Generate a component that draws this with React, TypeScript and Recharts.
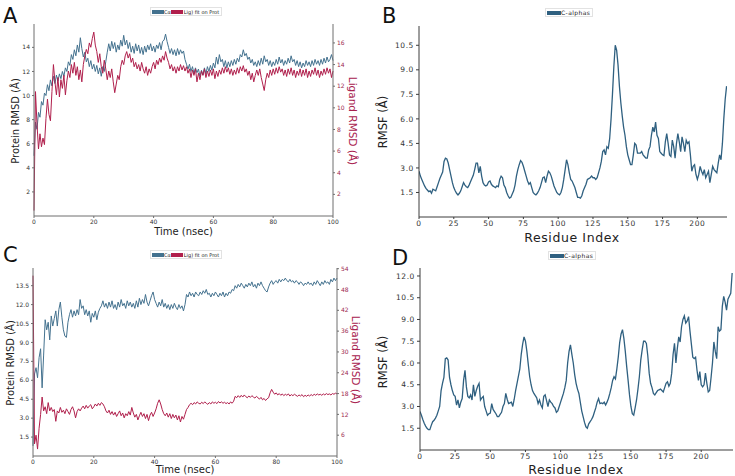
import { LineChart, Line, XAxis, YAxis } from "recharts";

// RMSD traces are sampled every 0.5 ns over the 100 ns run
const TIME_STEP = 0.5;

// Panel A: protein C-alpha RMSD and ligand RMSD (fit on protein)
const caRmsdA = [
  5.0, 7.8, 7.2, 8.6, 8.2, 9.5, 9.2, 10.2, 10.0, 10.9,
  10.4, 11.3, 10.8, 11.6, 11.0, 11.7, 11.2, 11.8, 11.4, 12.0,
  11.6, 12.3, 12.0, 12.8, 12.5, 13.4, 13.0, 13.8, 13.3, 14.2,
  13.6, 14.8, 13.9, 13.2, 13.6, 12.8, 13.1, 12.4, 12.9, 12.2,
  12.6, 12.0, 12.5, 11.8, 12.3, 11.6, 12.4, 12.0, 12.8, 13.6,
  14.3, 13.7, 14.5, 13.9, 14.4, 13.6, 14.2, 13.8, 14.6, 14.1,
  15.0, 14.2, 14.6, 13.9, 14.4, 13.6, 14.1, 13.5, 14.3, 13.7,
  14.2, 13.5, 14.0, 13.4, 14.1, 13.6, 14.2, 13.8, 14.3, 13.7,
  14.1, 13.6, 14.2, 13.9, 14.4, 13.8, 14.5, 14.6, 15.1, 14.5,
  14.0, 13.5, 13.9, 13.4, 13.8, 13.3, 13.9, 13.4, 13.8, 13.5,
  13.7, 13.0, 12.6, 12.2, 12.6, 12.0, 12.4, 11.8, 12.3, 11.9,
  12.2, 11.6, 12.1, 11.7, 12.3, 11.8, 12.4, 12.0, 12.5, 12.1,
  12.7, 12.3, 13.2, 12.6, 13.4, 12.8, 13.0, 12.4, 12.9, 12.3,
  12.8, 12.4, 12.9, 12.5, 13.0, 12.6, 13.1, 12.8, 13.4, 13.2,
  13.8, 13.3, 13.5, 13.0, 13.2, 12.7, 13.0, 12.5, 12.8, 12.4,
  12.9, 12.5, 13.1, 12.6, 13.3, 12.8, 13.0, 12.5, 12.9, 12.4,
  12.8, 12.5, 13.0, 12.6, 13.2, 12.7, 13.0, 12.5, 12.9, 12.6,
  13.1, 12.7, 13.3, 12.8, 13.0, 12.5, 12.9, 12.4, 12.8, 12.3,
  12.7, 12.4, 12.9, 12.5, 12.8, 12.4, 12.9, 12.5, 13.0, 12.6,
  12.9, 12.5, 13.0, 12.6, 13.1, 12.7, 13.2, 12.8, 13.0, 13.4,
  12.9,
];
const ligRmsdA = [
  0.5, 11.5, 8.5, 6.2, 7.6, 6.4, 7.2, 6.6, 9.0, 10.8,
  9.4, 8.8, 11.5, 14.0, 12.4, 11.2, 12.8, 11.0, 12.6, 11.8,
  13.0, 11.2, 12.5, 13.4, 12.8, 14.0, 13.2, 14.2, 13.0, 13.8,
  12.6, 13.5, 12.4, 14.0, 14.8, 15.4, 15.0, 16.0, 15.6, 16.4,
  17.0, 15.8, 15.2, 14.2, 15.0, 13.8, 13.2, 14.4, 13.6, 12.6,
  13.4, 12.8, 13.6, 12.4, 11.4, 12.2, 13.0, 12.6, 13.8, 14.4,
  14.0, 14.8, 15.2, 14.6, 15.0, 14.2, 14.6, 13.8, 14.2, 13.6,
  14.0, 13.4, 14.2, 13.6, 13.2, 13.8, 13.0, 13.6, 13.2, 13.8,
  14.2, 13.6, 14.4, 14.0, 14.6, 14.2, 14.8, 14.4, 15.2, 14.6,
  14.2, 13.6, 14.0, 13.4, 13.8, 13.2, 13.8, 13.4, 14.0, 13.5,
  13.9, 13.4, 13.8, 13.2, 13.6, 12.8, 13.5, 13.0, 13.6, 12.4,
  13.2, 12.6, 13.4, 13.0, 13.6, 12.8, 13.4, 12.9, 13.5, 13.0,
  13.6, 12.7, 13.4, 12.9, 13.5, 13.1, 13.7, 13.2, 13.8, 13.3,
  13.7, 13.1, 13.6, 13.0, 13.5, 13.1, 13.7, 13.2, 13.8, 13.4,
  13.9, 13.3, 13.6, 13.0, 13.4, 12.6, 13.2, 12.4, 13.0, 13.5,
  13.0, 13.6, 12.8, 12.2, 11.6, 12.6, 13.2, 12.8, 13.5, 13.0,
  13.6, 13.1, 13.7, 13.2, 13.8, 13.3, 13.6, 13.0, 13.5, 12.9,
  13.6, 13.1, 13.7, 13.0, 13.5, 12.8, 13.4, 13.0, 13.6, 12.9,
  13.5, 13.0, 13.6, 12.8, 13.4, 12.9, 13.5, 13.1, 13.7, 13.0,
  13.5, 12.8, 13.4, 13.0, 13.6, 13.1, 13.7, 13.2, 13.6, 12.8,
  13.4,
];

// Panel C: second complex
const caRmsdC = [
  0.8, 6.5, 7.0, 6.2, 7.8, 8.5, 5.4, 8.0, 10.8, 10.0,
  10.6, 9.2, 11.1, 10.3, 10.9, 11.5, 10.3, 11.6, 12.2, 11.0,
  10.0, 9.5, 9.4, 10.6, 11.2, 11.6, 11.0, 11.5, 11.1, 11.6,
  11.2, 12.4, 11.7, 11.9, 11.2, 11.6, 11.1, 11.5, 10.6, 11.3,
  11.0, 11.5, 10.8, 11.4, 11.7, 11.9, 12.3, 11.8, 12.1, 11.7,
  12.2, 11.8, 12.3, 11.7, 12.0, 11.6, 12.2, 11.8, 12.4, 11.9,
  12.1, 11.7, 12.3, 11.9, 12.2, 11.8, 12.1, 11.7, 12.3, 11.8,
  12.5, 12.0, 12.4, 12.1, 12.8, 12.2, 11.9, 12.3, 12.7, 13.0,
  12.4, 12.1, 11.8, 12.2, 11.9, 12.4, 11.8, 12.1, 11.7, 12.0,
  11.6, 12.0, 11.7, 12.1, 11.8, 11.6, 12.0, 11.7, 11.9, 11.5,
  12.0, 12.8, 12.6, 13.0, 12.7, 12.9, 12.6, 13.0, 12.8, 12.7,
  13.0, 12.8, 13.1, 12.9, 13.2, 12.8, 12.9, 12.6, 12.9, 12.7,
  13.0, 12.8, 12.6, 12.9, 12.7, 13.0, 12.6, 12.9, 12.7, 13.0,
  12.9, 13.2, 13.1, 13.5, 13.3, 13.6, 13.4, 13.7, 13.5, 13.3,
  13.6, 13.4, 13.7, 13.5, 13.8, 13.4, 13.6, 13.3, 13.7, 13.5,
  13.8, 13.5, 13.3, 13.1, 13.0, 13.4, 13.7, 13.9, 13.6, 13.8,
  13.9, 13.7, 14.0, 13.8, 14.0, 13.9, 14.1, 13.9, 13.8, 14.0,
  13.8, 13.9, 13.7, 13.9, 13.8, 13.6, 13.8, 13.7, 13.5, 13.7,
  13.6, 13.8, 13.6, 13.7, 13.5, 13.8, 13.6, 13.9, 13.7, 13.5,
  13.8, 13.6, 13.9, 13.7, 13.8, 13.6, 14.0, 13.8, 14.1, 13.9,
  14.1,
];
const ligRmsdC = [
  52.0, 3.5, 6.0, 2.0, 8.0, 12.0, 17.0, 13.0, 14.2, 12.2,
  15.4, 13.0, 14.0, 12.8, 13.4, 10.0, 13.0, 12.4, 14.0, 12.6,
  13.2, 12.2, 13.6, 12.8, 12.0, 13.4, 14.2, 13.0, 11.0, 12.8,
  13.6, 13.0, 13.8, 14.4, 13.6, 14.6, 13.8, 14.4, 14.8, 13.6,
  14.2, 15.0, 14.4, 15.2, 14.6, 15.4, 15.0, 14.2, 13.0, 12.4,
  13.2, 12.0, 12.8, 11.8, 12.6, 11.4, 12.2, 13.0, 11.6, 12.4,
  11.0, 12.2, 11.6, 12.8, 11.8, 14.0, 12.4, 11.2, 12.0, 10.4,
  11.6, 12.6, 11.4, 12.2, 10.8, 12.0, 10.2, 11.8, 12.6, 11.4,
  12.4, 13.6, 15.2, 16.2, 15.0, 13.4, 12.2, 11.6, 12.4, 11.2,
  12.2, 10.8, 12.0, 11.0, 11.8, 10.4, 11.6, 9.8, 11.4, 10.6,
  12.0, 13.4, 14.0, 14.8, 15.2, 14.8, 15.4, 15.0, 15.6, 15.2,
  15.0, 15.5, 15.1, 15.6, 15.2, 14.9, 15.4, 15.0, 15.6, 15.2,
  15.5, 15.1, 15.7, 15.3, 15.6, 15.2, 15.5, 15.1, 15.4, 15.0,
  15.6, 15.2, 15.8, 17.2, 16.8, 17.4, 16.9, 17.5, 17.0, 17.6,
  17.1, 16.8, 17.3, 16.9, 17.4, 17.0, 16.7, 17.2, 16.8, 16.4,
  16.9, 16.2, 16.6, 16.0, 16.5, 16.8, 18.2, 19.2, 18.4, 17.8,
  18.2, 17.6, 18.0, 17.5, 17.9, 17.4, 17.8, 17.5, 17.9, 17.3,
  17.7, 17.4, 17.8, 17.5, 17.2, 17.6, 17.3, 17.7, 17.1, 17.5,
  17.2, 17.6, 17.3, 17.7, 17.4, 17.8, 17.5, 17.9, 17.6, 17.8,
  17.5, 17.9, 17.6, 18.0, 17.7, 17.9, 17.6, 18.0, 17.8, 18.1,
  17.9,
];

// Panels B and D: per-residue C-alpha RMSF, residue 0 onward
const rmsfB = [
  2.8, 2.5, 2.3, 2.1, 1.9, 1.75, 1.65, 1.55, 1.6, 1.45,
  1.7, 1.65, 1.6, 1.85, 2.1, 2.35, 2.55, 2.75, 3.4, 3.6,
  3.55, 3.3, 2.9, 2.5, 2.1, 1.8, 1.6, 1.45, 1.35, 1.45,
  1.6, 1.85, 2.1, 1.95, 1.85, 1.8, 1.95, 2.15, 2.35, 2.55,
  2.9, 3.3, 3.3, 2.7, 3.1, 2.5, 2.1, 1.95, 1.9, 1.95,
  2.15, 2.2, 2.0, 1.9, 1.85, 1.8, 1.9, 1.85, 2.3, 2.5,
  2.4, 1.95, 1.8, 1.5, 1.3, 1.15, 1.2, 1.4, 1.6, 1.95,
  2.5, 2.9, 3.2, 3.45, 3.35, 3.1, 2.8, 2.5, 2.2, 2.0,
  2.1, 1.8, 1.5, 1.4, 1.35, 1.45, 1.6, 1.8, 2.1, 2.4,
  2.45, 2.1, 2.5, 2.8, 2.7, 2.5, 2.2, 1.9, 1.7, 1.5,
  1.4, 1.35, 1.5, 1.8, 2.3, 2.9, 3.5, 3.2, 2.7, 2.3,
  2.2, 2.0, 1.8, 1.5, 1.2, 1.2, 1.15, 1.3, 1.6, 1.8,
  2.0, 2.3, 2.35, 2.4, 2.5, 2.4, 2.4, 2.3, 2.4, 2.7,
  3.0, 3.4, 4.0, 4.1, 3.8, 4.3, 4.2, 4.8, 6.0, 7.5,
  9.2, 10.5, 10.2, 9.3, 8.0, 7.0, 6.2, 5.5, 5.0, 4.3,
  3.8, 3.5, 3.2, 3.2, 3.8, 4.5, 4.4, 3.9, 3.9, 3.9,
  4.0, 3.8, 3.7, 3.6, 3.6, 4.1, 4.3, 5.0, 5.5, 5.2,
  5.8, 5.0, 4.8, 4.0, 3.9, 3.8, 3.75, 4.6, 5.1, 4.5,
  3.8, 3.7, 4.7, 4.3, 3.6, 4.5, 5.1, 4.6, 4.0, 4.9,
  4.5, 4.0, 4.7, 4.5, 4.6, 3.8, 2.8, 3.1, 3.2, 2.6,
  2.3, 2.6, 3.1, 2.8, 2.6, 2.9, 2.4, 2.6, 2.8, 2.1,
  2.6, 3.1, 2.9, 2.8, 2.7, 3.3, 3.8, 3.5, 4.5, 6.0,
  7.2, 8.0,
];
const rmsfD = [
  2.65, 2.4, 2.1, 1.85, 1.65, 1.5, 1.4, 1.4, 1.7, 1.95,
  2.05, 2.2, 2.4, 2.7, 3.0, 4.1, 4.6, 5.0, 6.3, 6.35,
  6.2, 5.0, 4.5, 4.1, 3.8, 3.7, 3.1, 3.45, 2.9, 3.3,
  3.55, 4.8, 5.5, 4.35, 3.7, 3.6, 3.8, 3.45, 4.5, 3.7,
  4.1, 4.4, 4.6, 3.45, 3.6, 3.7, 3.0, 2.7, 2.4, 2.5,
  2.55, 3.2, 2.8, 2.65, 2.5, 2.3, 2.3, 2.45, 2.6, 3.0,
  3.2, 3.9, 3.5, 3.2, 3.25, 3.3, 3.0, 3.5, 4.1, 4.6,
  5.1, 5.6, 6.6, 7.3, 7.8, 7.5, 6.8, 5.9, 5.05, 4.5,
  4.1, 3.9, 3.75, 3.6, 3.2, 3.45, 3.1, 2.9, 3.7, 3.8,
  3.4, 3.0, 3.45, 3.3, 3.2, 3.0, 2.9, 2.6, 2.7, 3.0,
  3.3, 3.6, 3.9, 4.3, 4.8, 6.0, 6.8, 7.25, 6.6, 6.0,
  5.2, 4.6, 4.2, 3.9, 3.3, 2.7, 2.3, 1.9, 1.6, 1.5,
  1.8, 1.95, 2.1, 2.3, 2.6, 2.9, 3.3, 3.55, 3.2, 3.25,
  3.2, 3.3, 3.1, 3.3, 3.55, 3.9, 4.3, 4.8, 5.05, 4.9,
  5.6, 6.4, 7.4, 8.0, 8.3, 7.7, 6.8, 5.75, 4.8, 3.8,
  3.0, 2.5, 2.4, 2.9, 3.45, 4.2, 5.05, 6.2, 6.9, 7.5,
  7.5, 7.35, 6.5, 5.3, 4.6, 4.3, 3.9, 3.8, 3.95, 4.1,
  4.15, 4.2, 4.1, 4.0, 4.3, 4.6, 4.7, 4.4, 4.6, 5.3,
  6.6, 7.35, 6.0, 7.0, 7.8, 7.45, 8.5, 9.0, 9.25, 8.75,
  8.9, 9.2, 8.2, 7.3, 6.4, 6.3, 6.4, 5.5, 4.8, 5.4,
  4.5, 4.35, 4.5, 5.3, 4.6, 4.0, 4.1, 5.0, 6.0, 7.45,
  6.8, 6.3, 8.5, 8.2, 8.3, 9.9, 10.6, 10.2, 9.65, 10.4,
  10.6, 10.8, 12.2,
];

// Tick positions
const timeTicks = [0, 20, 40, 60, 80, 100];
const residueTicks = [0, 25, 50, 75, 100, 125, 150, 175, 200];
const protTicksA = [2, 4, 6, 8, 10, 12, 14];
const ligTicksA = [2, 4, 6, 8, 10, 12, 14, 16];
const protTicksC = [1.5, 3, 4.5, 6, 7.5, 9, 10.5, 12, 13.5];
const ligTicksC = [6, 12, 18, 24, 30, 36, 42, 48, 54];
const rmsfTicksB = [1.5, 3, 4.5, 6, 7.5, 9, 10.5];
const rmsfTicksD = [1.5, 3, 4.5, 6, 7.5, 9, 10.5, 12];

const CA_BLUE = "#44728f";
const LIG_RED = "#b01f4c";
const RMSF_BLUE = "#2f6080";
const FONT = "'DejaVu Sans', sans-serif";

type Margin = { top: number; right: number; bottom: number; left: number };

type RmsdPanelProps = {
  left: number;
  top: number;
  width: number;
  height: number;
  margin: Margin;
  leftWidth: number;
  rightWidth: number;
  xHeight: number;
  protein: number[];
  ligand: number[];
  protDomain: [number, number];
  ligDomain: [number, number];
  protTicks: number[];
  ligTicks: number[];
  protFormat: (v: number) => string;
  ligColor: string;
};

const RmsdPanel = (p: RmsdPanelProps) => {
  const data = p.protein.map((v, i) => ({
    time: i * TIME_STEP,
    ca: v,
    lig: p.ligand[i],
  }));
  const frame = "#6f6f6f";
  return (
    <div style={{ position: "absolute", left: p.left, top: p.top }}>
      <LineChart width={p.width} height={p.height} data={data} margin={p.margin}>
        <XAxis
          dataKey="time"
          type="number"
          domain={[0, 100]}
          ticks={timeTicks}
          interval={0}
          height={p.xHeight}
          tickSize={2}
          tick={{ fontSize: 6, fill: "#333", fontFamily: FONT }}
          stroke={frame}
        />
        <XAxis
          xAxisId="frameTop"
          orientation="top"
          type="number"
          domain={[0, 100]}
          height={0}
          tick={false}
          tickLine={false}
          stroke={frame}
        />
        <YAxis
          yAxisId="prot"
          type="number"
          domain={p.protDomain}
          ticks={p.protTicks}
          interval={0}
          allowDataOverflow
          width={p.leftWidth}
          tickSize={2}
          tickFormatter={p.protFormat}
          tick={{ fontSize: 6, fill: "#333", fontFamily: FONT }}
          stroke={frame}
        />
        <YAxis
          yAxisId="lig"
          orientation="right"
          type="number"
          domain={p.ligDomain}
          ticks={p.ligTicks}
          interval={0}
          allowDataOverflow
          width={p.rightWidth}
          tickSize={2}
          tick={{ fontSize: 6, fill: p.ligColor, fontFamily: FONT }}
          stroke={frame}
        />
        <Line
          yAxisId="prot"
          dataKey="ca"
          stroke={CA_BLUE}
          strokeWidth={1}
          dot={false}
          isAnimationActive={false}
        />
        <Line
          yAxisId="lig"
          dataKey="lig"
          stroke={LIG_RED}
          strokeWidth={1}
          dot={false}
          isAnimationActive={false}
        />
      </LineChart>
    </div>
  );
};

type RmsfPanelProps = {
  left: number;
  top: number;
  width: number;
  height: number;
  margin: Margin;
  leftWidth: number;
  xHeight: number;
  values: number[];
  xMax: number;
  yDomain: [number, number];
  yTicks: number[];
};

const RmsfPanel = (p: RmsfPanelProps) => {
  const data = p.values.map((v, i) => ({ residue: i, rmsf: v }));
  const frame = "#3c3c3c";
  const tick = { fontSize: 7.5, fill: "#333", fontFamily: FONT, letterSpacing: 0.6 };
  return (
    <div style={{ position: "absolute", left: p.left, top: p.top }}>
      <LineChart width={p.width} height={p.height} data={data} margin={p.margin}>
        <XAxis
          dataKey="residue"
          type="number"
          domain={[0, p.xMax]}
          allowDataOverflow
          ticks={residueTicks}
          interval={0}
          height={p.xHeight}
          tickSize={2}
          tick={tick}
          stroke={frame}
        />
        <XAxis
          xAxisId="frameTop"
          orientation="top"
          type="number"
          domain={[0, p.xMax]}
          height={0}
          tick={false}
          tickLine={false}
          stroke={frame}
        />
        <YAxis
          type="number"
          domain={p.yDomain}
          ticks={p.yTicks}
          interval={0}
          allowDataOverflow
          width={p.leftWidth}
          tickSize={3}
          tickFormatter={(v: number) => v.toFixed(1)}
          tick={tick}
          stroke={frame}
        />
        <YAxis
          yAxisId="frameRight"
          orientation="right"
          width={0}
          tick={false}
          tickLine={false}
          stroke={frame}
        />
        <Line
          dataKey="rmsf"
          stroke={RMSF_BLUE}
          strokeWidth={1.3}
          dot={false}
          isAnimationActive={false}
        />
      </LineChart>
    </div>
  );
};

const swatch = (color: string, w: number, h: number) => (
  <span style={{ display: "inline-block", width: w, height: h, background: color }} />
);

const RmsdLegend = ({ left, top }: { left: number; top: number }) => (
  <div
    style={{
      position: "absolute",
      left,
      top,
      display: "flex",
      alignItems: "center",
      height: 7,
      padding: "0 2px 0 1px",
      background: "#fff",
      border: "1px solid #e2e2e2",
      fontFamily: FONT,
      fontSize: 5,
      color: "#222",
      whiteSpace: "nowrap",
    }}
  >
    {swatch(CA_BLUE, 12, 4)}
    <span>Cα</span>
    {swatch(LIG_RED, 12, 4)}
    <span style={{ marginLeft: 1 }}>Lig) fit on Prot</span>
  </div>
);

const RmsfLegend = ({ left, top }: { left: number; top: number }) => (
  <div
    style={{
      position: "absolute",
      left,
      top,
      display: "flex",
      alignItems: "center",
      height: 7,
      padding: "0 2px 0 1px",
      background: "#fff",
      border: "1px solid #e2e2e2",
      fontFamily: FONT,
      fontSize: 6,
      color: "#222",
      letterSpacing: 0.4,
      whiteSpace: "nowrap",
    }}
  >
    {swatch(RMSF_BLUE, 14, 4)}
    <span>C-alphas</span>
  </div>
);

const App = () => {
  return (
    <div
      style={{
        position: "absolute",
        left: 0,
        top: 0,
        width: 735,
        height: 476,
        background: "#fff",
        overflow: "hidden",
        fontFamily: FONT,
      }}
    >
      <RmsdPanel
        left={0}
        top={0}
        width={370}
        height={240}
        margin={{ top: 24, right: 0, bottom: 0, left: 0 }}
        leftWidth={34}
        rightWidth={37}
        xHeight={24}
        protein={caRmsdA}
        ligand={ligRmsdA}
        protDomain={[0, 15.94]}
        ligDomain={[0, 17.75]}
        protTicks={protTicksA}
        ligTicks={ligTicksA}
        protFormat={(v) => String(v)}
        ligColor="#9c2a50"
      />
      <RmsfPanel
        left={370}
        top={0}
        width={365}
        height={245}
        margin={{ top: 26, right: 8, bottom: 0, left: 0 }}
        leftWidth={49}
        xHeight={28}
        values={rmsfB}
        xMax={221.3}
        yDomain={[0, 11.68]}
        yTicks={rmsfTicksB}
      />
      <RmsdPanel
        left={0}
        top={240}
        width={370}
        height={236}
        margin={{ top: 28, right: 0, bottom: 0, left: 0 }}
        leftWidth={33}
        rightWidth={33}
        xHeight={20}
        protein={caRmsdC}
        ligand={ligRmsdC}
        protDomain={[0, 14.9]}
        ligDomain={[0, 54.2]}
        protTicks={protTicksC}
        ligTicks={ligTicksC}
        protFormat={(v) => v.toFixed(1)}
        ligColor="#9c2a50"
      />
      <RmsfPanel
        left={370}
        top={240}
        width={365}
        height={236}
        margin={{ top: 28, right: 2, bottom: 0, left: 0 }}
        leftWidth={50}
        xHeight={26}
        values={rmsfD}
        xMax={222.6}
        yDomain={[0, 12.55]}
        yTicks={rmsfTicksD}
      />

      <RmsdLegend left={150} top={7} />
      <RmsfLegend left={545} top={8} />
      <RmsdLegend left={150} top={250} />
      <RmsfLegend left={548} top={251} />

      <svg
        width={735}
        height={476}
        style={{ position: "absolute", left: 0, top: 0, pointerEvents: "none" }}
        fontFamily={FONT}
      >
        <text x={3} y={23} fontSize={21} fill="#111">A</text>
        <text x={382} y={23} fontSize={21} fill="#111">B</text>
        <text x={3} y={262} fontSize={21} fill="#111">C</text>
        <text x={392} y={265} fontSize={21} fill="#111">D</text>

        <text x={15} y={121} fontSize={10} fill="#222" textAnchor="middle"
          dominantBaseline="central" transform="rotate(-90 15 121)">Protein RMSD (Å)</text>
        <text x={353} y={121} fontSize={10.5} fill="#a8214e" textAnchor="middle"
          dominantBaseline="central" transform="rotate(90 353 121)">Ligand RMSD (Å)</text>
        <text x={183.5} y={231.5} fontSize={10} fill="#222" textAnchor="middle"
          dominantBaseline="central">Time (nsec)</text>

        <text x={383} y={122} fontSize={11.5} fill="#222" textAnchor="middle"
          dominantBaseline="central" transform="rotate(-90 383 122)">RMSF (Å)</text>
        <text x={572} y={237} fontSize={12.5} fill="#222" textAnchor="middle"
          dominantBaseline="central" letterSpacing={0.6}>Residue Index</text>

        <text x={10} y={363} fontSize={10} fill="#222" textAnchor="middle"
          dominantBaseline="central" transform="rotate(-90 10 363)">Protein RMSD (Å)</text>
        <text x={356} y={360} fontSize={10.5} fill="#a8214e" textAnchor="middle"
          dominantBaseline="central" transform="rotate(90 356 360)">Ligand RMSD (Å)</text>
        <text x={185} y={469} fontSize={10} fill="#222" textAnchor="middle"
          dominantBaseline="central">Time (nsec)</text>

        <text x={383} y={362} fontSize={11.5} fill="#222" textAnchor="middle"
          dominantBaseline="central" transform="rotate(-90 383 362)">RMSF (Å)</text>
        <text x={576} y={469} fontSize={12.5} fill="#222" textAnchor="middle"
          dominantBaseline="central" letterSpacing={0.6}>Residue Index</text>
      </svg>
    </div>
  );
};

export default App;
